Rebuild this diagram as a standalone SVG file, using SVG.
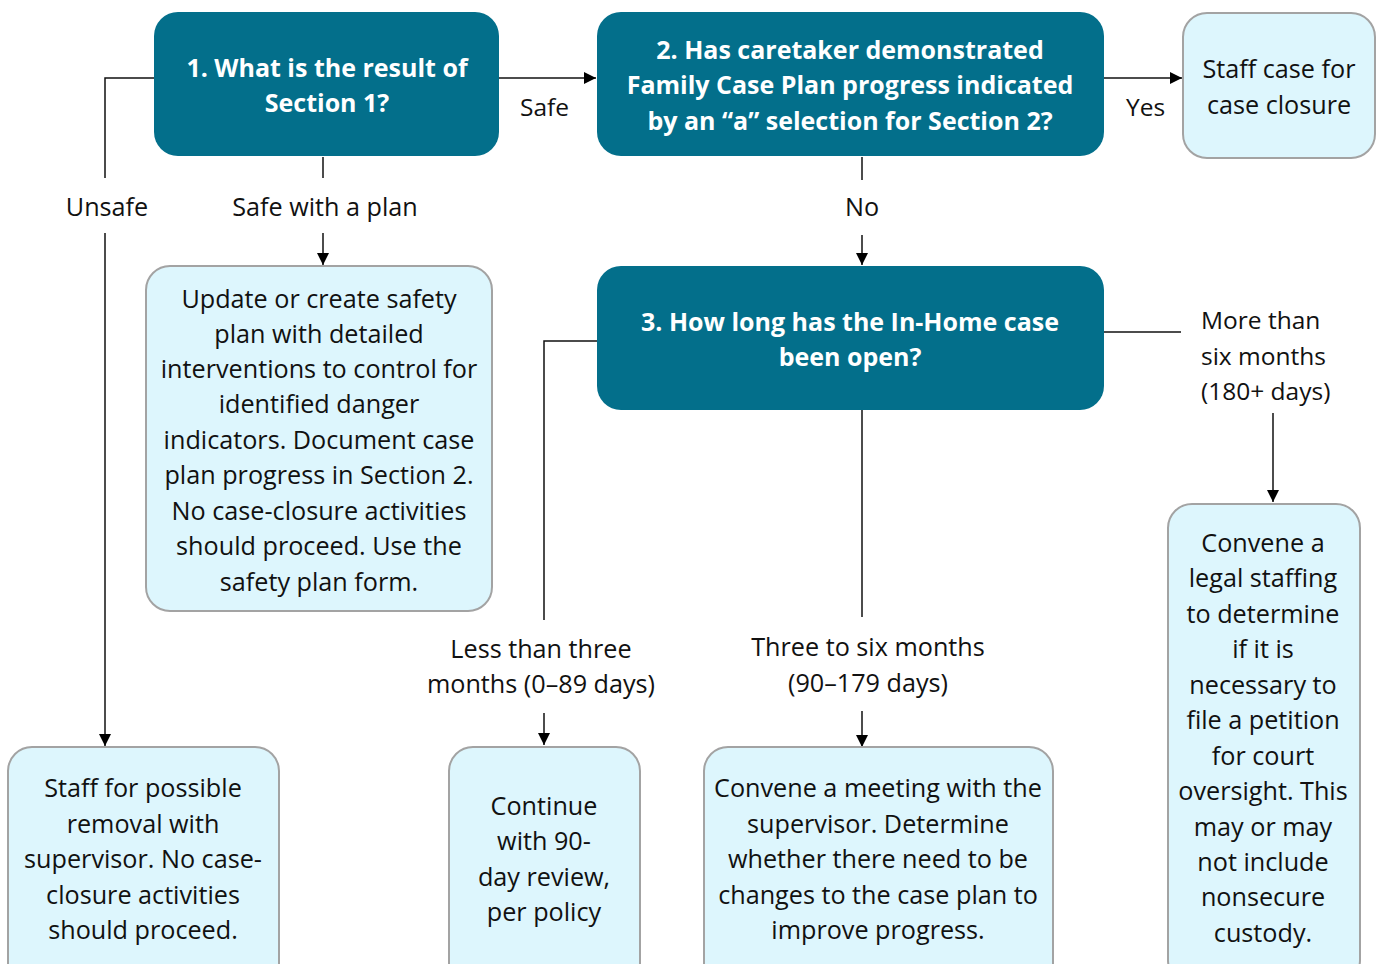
<svg xmlns="http://www.w3.org/2000/svg" width="1380" height="964" viewBox="0 0 1380 964">
<style>
.q{fill:#036f8b;}
.a{fill:#ddf6fd;stroke:#a3a3a3;stroke-width:2;}
.qt{font-family:"Open Sans","Noto Sans",sans-serif;font-weight:bold;font-size:25px;fill:#fff;text-anchor:middle;}
.t{font-family:"Open Sans","Noto Sans",sans-serif;font-size:25.2px;fill:#111;text-anchor:middle;}
.l{font-family:"Open Sans","Noto Sans",sans-serif;font-size:24.5px;fill:#111;}
.c{fill:none;stroke:#111;stroke-width:1.5;}
</style>
<defs>
<marker id="ah" viewBox="0 0 12 12" refX="12" refY="6" markerWidth="12" markerHeight="12" markerUnits="userSpaceOnUse" orient="auto">
<path d="M0,0 L12,6 L0,12 Z" fill="#000"/>
</marker>
</defs>
<rect width="1380" height="964" fill="#fff"/>
<g id="connectors">
<path class="c" d="M499,78 H596" marker-end="url(#ah)"/>
<path class="c" d="M1104,78 H1182" marker-end="url(#ah)"/>
<path class="c" d="M154,78 H105 V178"/>
<path class="c" d="M105,233 V746" marker-end="url(#ah)"/>
<path class="c" d="M323,157 V178"/>
<path class="c" d="M323,233 V265" marker-end="url(#ah)"/>
<path class="c" d="M862,157 V180"/>
<path class="c" d="M862,235 V265" marker-end="url(#ah)"/>
<path class="c" d="M597,341 H544 V620"/>
<path class="c" d="M544,713 V745" marker-end="url(#ah)"/>
<path class="c" d="M862,410 V617"/>
<path class="c" d="M862,711 V747" marker-end="url(#ah)"/>
<path class="c" d="M1104,332 H1181"/>
<path class="c" d="M1273,413 V502" marker-end="url(#ah)"/>
<text class="l" x="520" y="116">Safe</text>
<text class="l" x="1126" y="116">Yes</text>
<text class="t" x="107" y="216">Unsafe</text>
<text class="t" x="325" y="216">Safe with a plan</text>
<text class="t" x="862" y="216">No</text>
<text class="t" x="541" y="658">Less than three</text>
<text class="t" x="541" y="693">months (0–89 days)</text>
<text class="t" x="868" y="656">Three to six months</text>
<text class="t" x="868" y="692">(90–179 days)</text>
<text class="l" x="1201" y="329">More than</text>
<text class="l" x="1201" y="365">six months</text>
<text class="l" x="1201" y="400">(180+ days)</text>
</g>
<g id="q1">
<rect class="q" x="154" y="12" width="345" height="144" rx="24"/>
<text class="qt" x="327" y="77">1. What is the result of</text>
<text class="qt" x="327" y="112">Section 1?</text>
</g>
<g id="q2">
<rect class="q" x="597" y="12" width="507" height="144" rx="24"/>
<text class="qt" x="850" y="59">2. Has caretaker demonstrated</text>
<text class="qt" x="850" y="94">Family Case Plan progress indicated</text>
<text class="qt" x="850" y="130">by an “a” selection for Section 2?</text>
</g>
<g id="closure">
<rect class="a" x="1183" y="13" width="192" height="145" rx="24"/>
<text class="t" x="1279" y="78">Staff case for</text>
<text class="t" x="1279" y="114">case closure</text>
</g>
<g id="safetyplan">
<rect class="a" x="146" y="266" width="346" height="345" rx="24"/>
<text class="t" x="319" y="308">Update or create safety</text>
<text class="t" x="319" y="343">plan with detailed</text>
<text class="t" x="319" y="378">interventions to control for</text>
<text class="t" x="319" y="413">identified danger</text>
<text class="t" x="319" y="449">indicators. Document case</text>
<text class="t" x="319" y="484">plan progress in Section 2.</text>
<text class="t" x="319" y="520">No case-closure activities</text>
<text class="t" x="319" y="555">should proceed. Use the</text>
<text class="t" x="319" y="591">safety plan form.</text>
</g>
<g id="q3">
<rect class="q" x="597" y="266" width="507" height="144" rx="24"/>
<text class="qt" x="850" y="331">3. How long has the In-Home case</text>
<text class="qt" x="850" y="366">been open?</text>
</g>
<g id="legal">
<rect class="a" x="1168" y="504" width="192" height="480" rx="24"/>
<text class="t" x="1263" y="552">Convene a</text>
<text class="t" x="1263" y="587">legal staffing</text>
<text class="t" x="1263" y="623">to determine</text>
<text class="t" x="1263" y="658">if it is</text>
<text class="t" x="1263" y="694">necessary to</text>
<text class="t" x="1263" y="729">file a petition</text>
<text class="t" x="1263" y="765">for court</text>
<text class="t" x="1263" y="800">oversight. This</text>
<text class="t" x="1263" y="836">may or may</text>
<text class="t" x="1263" y="871">not include</text>
<text class="t" x="1263" y="906">nonsecure</text>
<text class="t" x="1263" y="942">custody.</text>
</g>
<g id="removal">
<rect class="a" x="8" y="747" width="271" height="240" rx="24"/>
<text class="t" x="143" y="797">Staff for possible</text>
<text class="t" x="143" y="833">removal with</text>
<text class="t" x="143" y="868">supervisor. No case-</text>
<text class="t" x="143" y="904">closure activities</text>
<text class="t" x="143" y="939">should proceed.</text>
</g>
<g id="continue">
<rect class="a" x="449" y="747" width="191" height="240" rx="24"/>
<text class="t" x="544" y="815">Continue</text>
<text class="t" x="544" y="850">with 90-</text>
<text class="t" x="544" y="886">day review,</text>
<text class="t" x="544" y="921">per policy</text>
</g>
<g id="meeting">
<rect class="a" x="704" y="747" width="349" height="240" rx="24"/>
<text class="t" x="878" y="797">Convene a meeting with the</text>
<text class="t" x="878" y="833">supervisor. Determine</text>
<text class="t" x="878" y="868">whether there need to be</text>
<text class="t" x="878" y="904">changes to the case plan to</text>
<text class="t" x="878" y="939">improve progress.</text>
</g>
</svg>
